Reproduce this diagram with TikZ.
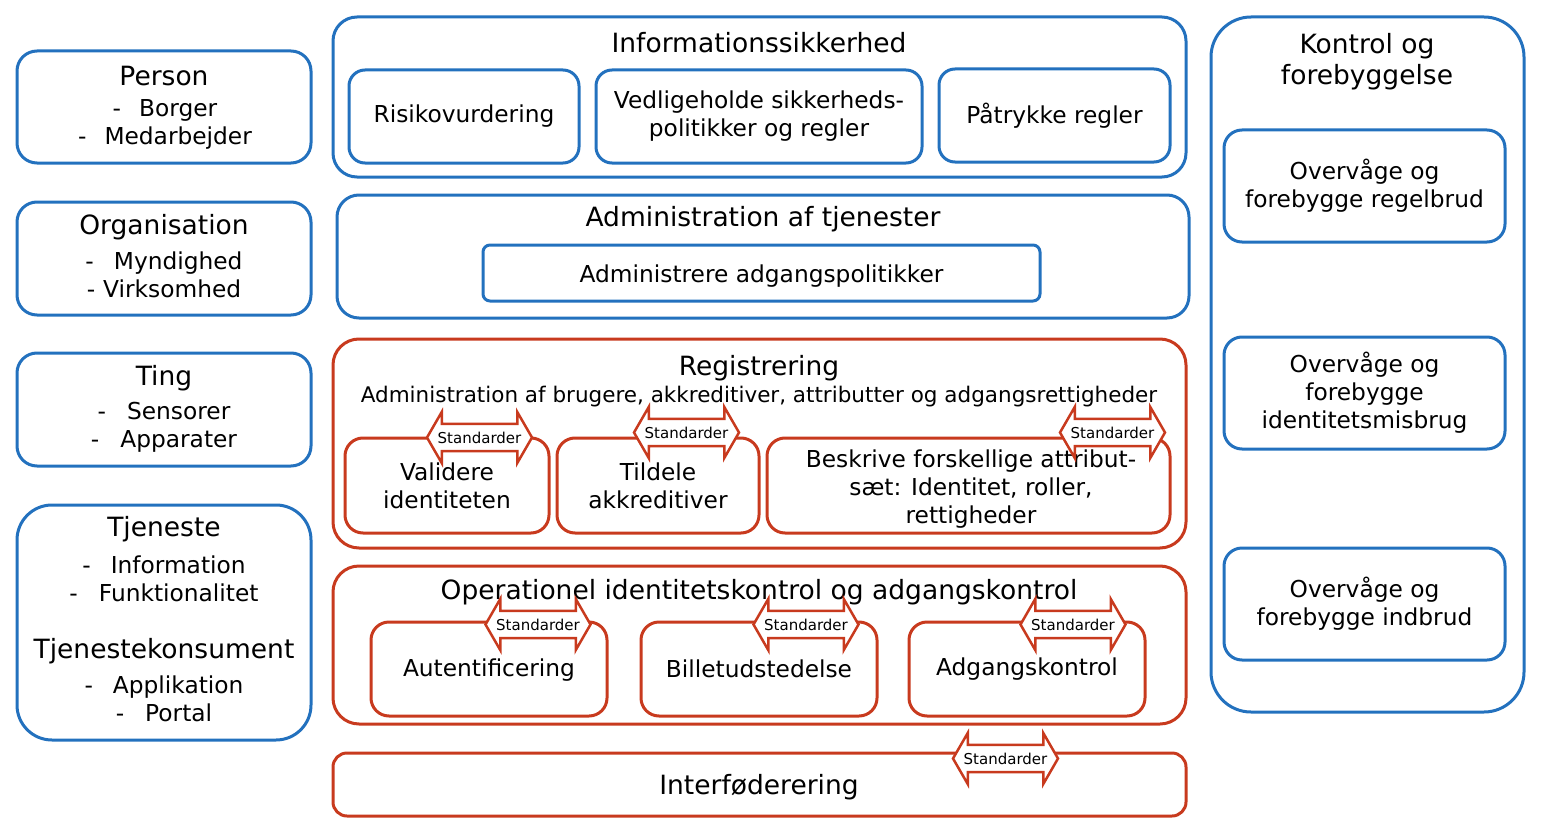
\documentclass[tikz,border=0pt]{standalone}
\usepackage{fontspec}
\setmainfont{DejaVu Sans}
\usetikzlibrary{shapes.arrows}
\definecolor{bl}{RGB}{35,113,190}
\definecolor{rd}{RGB}{200,58,30}
\newcommand\myfs[1]{\fontsize{#1}{28}\selectfont}
\newcommand\dsh[1]{-\hspace{#1}}
\begin{document}
\begin{tikzpicture}[x=1pt,y=-1pt,
  bbox/.style={draw=bl, line width=3pt, rounded corners=#1, inner sep=0pt},
  rbox/.style={draw=rd, line width=3pt, rounded corners=#1, inner sep=0pt},
  txt/.style={font=\myfs{23.3}, align=center, inner sep=0pt, text=black},
  ttl/.style={font=\myfs{26.5}, align=center, inner sep=0pt, text=black},
  stdarrow/.style={double arrow, draw=rd, fill=white, line width=2.5pt,
     font=\myfs{15}, inner xsep=0pt, inner ysep=6.5pt,
     double arrow head extend=12pt, double arrow tip angle=120,
     minimum height=105pt, text=black}
]
\useasboundingbox (0,0) rectangle (1544,824);
% ---------- left column ----------
\node[bbox=20pt, minimum width=294pt, minimum height=112pt] (person) at (164,107) {};
\node[bbox=20pt, minimum width=294pt, minimum height=113pt] (org) at (164,258.5) {};
\node[bbox=20pt, minimum width=294pt, minimum height=113pt] (ting) at (164,409.5) {};
\node[bbox=35pt, minimum width=294pt, minimum height=235pt] (tjen) at (164,622.5) {};
\node[ttl] (tperson) at (164,76) {Person};
\node[txt] (iperson) at (165,124) {\dsh{18pt}Borger\\ \dsh{18pt}Medarbejder};
\node[ttl] (torg) at (164,227) {Organisation};
\node[txt] (iorg) at (164,275) {\dsh{20pt}Myndighed\\ \dsh{8pt}Virksomhed};
\node[ttl] (tting) at (164,378) {Ting};
\node[txt] (iting) at (164,427) {\dsh{21pt}Sensorer\\ \dsh{21pt}Apparater};
\node[ttl] (ttjen) at (164,529) {Tjeneste};
\node[txt] (itjen) at (164,579) {\dsh{20pt}Information\\ \dsh{21pt}Funktionalitet};
\node[ttl] (tkons) at (164,651) {Tjenestekonsument};
\node[txt] (ikons) at (164,699) {\dsh{20pt}Applikation\\ \dsh{21pt}Portal};
% ---------- right column ----------
\node[bbox=40pt, minimum width=313pt, minimum height=695pt] (kontrol) at (1367.5,364.5) {};
\node[ttl] (tkontrol) at (1367,62) {Kontrol og\\[3pt]forebyggelse};
\node[bbox=18pt, minimum width=281pt, minimum height=112pt, txt] (ov1) at (1364.5,186) {Overvåge og\\forebygge regelbrud};
\node[bbox=18pt, minimum width=281pt, minimum height=112pt, txt] (ov2) at (1364.5,393) {Overvåge og\\forebygge\\identitetsmisbrug};
\node[bbox=18pt, minimum width=281pt, minimum height=112pt, txt] (ov3) at (1364.5,604) {Overvåge og\\forebygge indbrud};
% ---------- Informationssikkerhed ----------
\node[bbox=24pt, minimum width=853pt, minimum height=160pt] (infosik) at (759.5,97) {};
\node[ttl] (tinfosik) at (759,43) {Informationssikkerhed};
\node[bbox=16pt, minimum width=230pt, minimum height=93pt, txt] (risiko) at (464,116.5) {Risikovurdering};
\node[bbox=16pt, minimum width=326pt, minimum height=93pt, txt] (vedl) at (759,116.5) {Vedligeholde sikkerheds-\\politikker og regler};
\node[bbox=16pt, minimum width=231pt, minimum height=93pt, txt] (paa) at (1054.5,115.5) {Påtrykke regler};
% ---------- Administration ----------
\node[bbox=22pt, minimum width=852pt, minimum height=123pt] (admin) at (763,256.5) {};
\node[ttl] (tadmin) at (763,219) {Administration af tjenester};
\node[bbox=7pt, minimum width=557pt, minimum height=56pt] (adminpol) at (761.5,273) {};
\node[txt] (tadminpol) at (761.5,276) {Administrere adgangspolitikker};
% ---------- Registrering ----------
\node[rbox=26pt, minimum width=853pt, minimum height=209pt] (reg) at (759.5,443.5) {};
\node[ttl] (treg) at (759,368) {Registrering};
\node[txt, font=\myfs{21.5}] (treg2) at (759,397) {Administration af brugere, akkreditiver, attributter og adgangsrettigheder};
\node[rbox=18pt, minimum width=204pt, minimum height=95pt, txt] (valid) at (447,485.5) {Validere\\identiteten};
\node[rbox=18pt, minimum width=202pt, minimum height=95pt, txt] (tild) at (658,485.5) {Tildele\\akkreditiver};
\node[rbox=18pt, minimum width=403pt, minimum height=95pt] (beskr) at (968.5,485.5) {};
\node[txt] (tbeskr) at (971,489) {Beskrive forskellige attribut-\\sæt: Identitet, roller,\\rettigheder};
% ---------- Operationel ----------
\node[rbox=26pt, minimum width=853pt, minimum height=158pt] (oper) at (759.5,645) {};
\node[ttl] (toper) at (759,592) {Operationel identitetskontrol og adgangskontrol};
\node[rbox=18pt, minimum width=236pt, minimum height=94pt] (autent) at (489,669) {};
\node[txt] (tautent) at (489,670) {Autentificering};
\node[rbox=18pt, minimum width=236pt, minimum height=94pt, txt] (billet) at (759,669) {Billetudstedelse};
\node[rbox=18pt, minimum width=236pt, minimum height=94pt, txt] (adgang) at (1027,669) {Adgangskontrol};
% ---------- Interfoederering ----------
\node[rbox=14pt, minimum width=853pt, minimum height=63pt] (interf) at (759.5,784.5) {};
\node[ttl] (tinterf) at (759,787) {Interføderering};
% ---------- Standarder arrows ----------
\node[stdarrow] (s1) at (479.5,437.5) {Standarder};
\node[stdarrow] (s2) at (686.5,432.5) {Standarder};
\node[stdarrow] (s3) at (1112.5,432.5) {Standarder};
\node[stdarrow] (s4) at (538,624.5) {Standarder};
\node[stdarrow] (s5) at (806,624.5) {Standarder};
\node[stdarrow] (s6) at (1073,624.5) {Standarder};
\node[stdarrow] (s7) at (1005.5,758.5) {Standarder};
\end{tikzpicture}
\end{document}
